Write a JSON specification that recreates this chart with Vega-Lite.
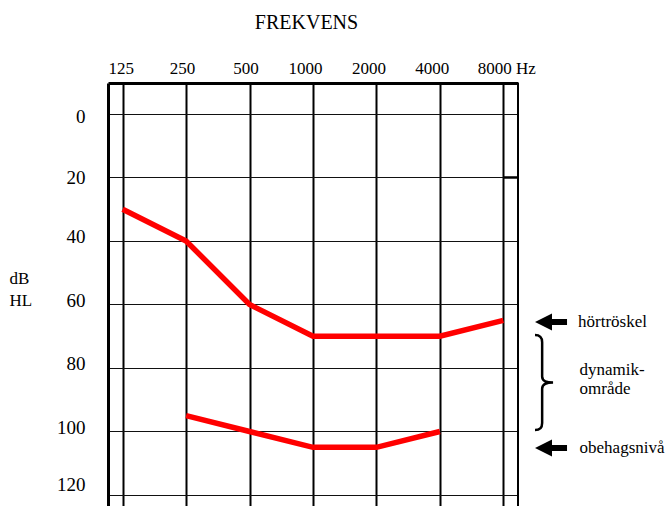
{
  "$schema": "https://vega.github.io/schema/vega-lite/v6.json",
  "autosize": "none",
  "padding": {"left": 108, "top": 83, "right": 148, "bottom": 0},
  "width": 410,
  "height": 423,
  "config": {
    "view": {"stroke": null},
    "font": "Liberation Serif",
    "axis": {"labelFont": "Liberation Serif", "titleFont": "Liberation Serif"},
    "text": {"font": "Liberation Serif"}
  },
  "datasets": {
    "kurvor": [
      {"frekvens": 125, "db": 30, "kurva": "hörtröskel"},
      {"frekvens": 250, "db": 40, "kurva": "hörtröskel"},
      {"frekvens": 500, "db": 60, "kurva": "hörtröskel"},
      {"frekvens": 1000, "db": 70, "kurva": "hörtröskel"},
      {"frekvens": 2000, "db": 70, "kurva": "hörtröskel"},
      {"frekvens": 4000, "db": 70, "kurva": "hörtröskel"},
      {"frekvens": 8000, "db": 65, "kurva": "hörtröskel"},
      {"frekvens": 250, "db": 95, "kurva": "obehagsnivå"},
      {"frekvens": 500, "db": 100, "kurva": "obehagsnivå"},
      {"frekvens": 1000, "db": 105, "kurva": "obehagsnivå"},
      {"frekvens": 2000, "db": 105, "kurva": "obehagsnivå"},
      {"frekvens": 4000, "db": 100, "kurva": "obehagsnivå"}
    ],
    "ram": [
      {"frekvens": 9393}
    ],
    "stycke": [
      {"frekvens": 8000, "frekvens2": 9393, "db": 20}
    ],
    "pilar": [
      {"frekvens": 13475, "db": 65.5},
      {"frekvens": 13475, "db": 105.2}
    ],
    "klammer": [
      {"frekvens": 12485, "db": 84.6}
    ],
    "etiketter": [
      {"frekvens": 18100, "db": 65.5, "etikett": "hörtröskel"},
      {"frekvens": 18400, "db": 80.6, "etikett": "dynamik-"},
      {"frekvens": 18400, "db": 86.6, "etikett": "område"},
      {"frekvens": 18400, "db": 105.2, "etikett": "obehagsnivå"}
    ]
  },
  "layer": [
    {
      "data": {"name": "kurvor"},
      "mark": {"type": "line", "color": "#ff0000", "strokeWidth": 5.5, "strokeJoin": "miter"},
      "encoding": {
        "x": {
          "field": "frekvens",
          "type": "quantitative",
          "scale": {"type": "log", "domain": [106.5, 9393], "nice": false},
          "axis": {
            "orient": "top",
            "values": [125, 250, 500, 1000, 2000, 4000, 8000],
            "format": "d",
            "labelExpr": "datum.value == 8000 ? '8000 Hz' : datum.label",
            "labelFont": "Liberation Serif",
            "labelFontSize": 17,
            "labelColor": "black",
            "labelBaseline": "alphabetic",
            "labelPadding": 10,
            "labelOffset": {
              "condition": [
                {"test": "datum.value == 8000", "value": 3},
                {"test": "datum.value >= 1000", "value": -8},
                {"test": "datum.value == 125", "value": -2}
              ],
              "value": -4
            },
            "labelFlush": false,
            "labelOverlap": false,
            "ticks": false,
            "domain": true,
            "domainColor": "black",
            "domainWidth": 3,
            "grid": true,
            "gridColor": "black",
            "gridWidth": 2,
            "gridOpacity": 1,
            "title": "FREKVENS",
            "titleFont": "Liberation Serif",
            "titleFontSize": 20,
            "titleFontWeight": "normal",
            "titleColor": "black",
            "titleAlign": "center",
            "titleBaseline": "alphabetic",
            "titleX": 198,
            "titleY": -55
          }
        },
        "y": {
          "field": "db",
          "type": "quantitative",
          "scale": {"domain": [-9.76, 123.47], "reverse": true, "nice": false, "zero": false},
          "axis": {
            "orient": "left",
            "values": [0, 20, 40, 60, 80, 100, 120],
            "labelFont": "Liberation Serif",
            "labelFontSize": 19,
            "labelColor": "black",
            "labelAlign": "right",
            "labelBaseline": "middle",
            "labelPadding": 23,
            "labelOffset": {
              "condition": [
                {"test": "datum.value == 0", "value": 3},
                {"test": "datum.value == 20", "value": 0},
                {"test": "datum.value == 120", "value": -10}
              ],
              "value": -4
            },
            "ticks": false,
            "domain": true,
            "domainColor": "black",
            "domainWidth": 3,
            "grid": true,
            "gridColor": "#111111",
            "gridWidth": 1,
            "gridOpacity": 1,
            "title": ["dB", "HL"],
            "titleFont": "Liberation Serif",
            "titleFontSize": 17,
            "titleFontWeight": "normal",
            "titleColor": "black",
            "titleAngle": 0,
            "titleAlign": "left",
            "titleBaseline": "middle",
            "titleLineHeight": 22,
            "titleX": -99,
            "titleY": 195
          }
        },
        "detail": {"field": "kurva", "type": "nominal"}
      }
    },
    {
      "data": {"name": "ram"},
      "mark": {"type": "rule", "color": "black", "strokeWidth": 2},
      "encoding": {
        "x": {"field": "frekvens", "type": "quantitative"}
      }
    },
    {
      "data": {"name": "stycke"},
      "mark": {"type": "rule", "color": "black", "strokeWidth": 2.5},
      "encoding": {
        "x": {"field": "frekvens", "type": "quantitative"},
        "x2": {"field": "frekvens2"},
        "y": {"field": "db", "type": "quantitative"}
      }
    },
    {
      "data": {"name": "pilar"},
      "mark": {
        "type": "point",
        "shape": "M -1 0 L 0.06 -0.53 L 0.06 -0.19 L 1 -0.19 L 1 0.19 L 0.06 0.19 L 0.06 0.53 Z",
        "size": 1024,
        "filled": true,
        "color": "black",
        "opacity": 1,
        "clip": false
      },
      "encoding": {
        "x": {"field": "frekvens", "type": "quantitative"},
        "y": {"field": "db", "type": "quantitative"}
      }
    },
    {
      "data": {"name": "klammer"},
      "mark": {
        "type": "point",
        "shape": "M -0.19 -1 Q -0.04 -1 -0.04 -0.85 L -0.04 -0.13 Q -0.04 0 0.19 0 Q -0.04 0 -0.04 0.13 L -0.04 0.85 Q -0.04 1 -0.19 1",
        "size": 9025,
        "filled": false,
        "stroke": "black",
        "strokeWidth": 2.5,
        "opacity": 1,
        "clip": false
      },
      "encoding": {
        "x": {"field": "frekvens", "type": "quantitative"},
        "y": {"field": "db", "type": "quantitative"}
      }
    },
    {
      "data": {"name": "etiketter"},
      "mark": {
        "type": "text",
        "align": "left",
        "baseline": "middle",
        "font": "Liberation Serif",
        "fontSize": 17,
        "color": "black",
        "clip": false
      },
      "encoding": {
        "x": {"field": "frekvens", "type": "quantitative"},
        "y": {"field": "db", "type": "quantitative"},
        "text": {"field": "etikett", "type": "nominal"}
      }
    }
  ]
}
